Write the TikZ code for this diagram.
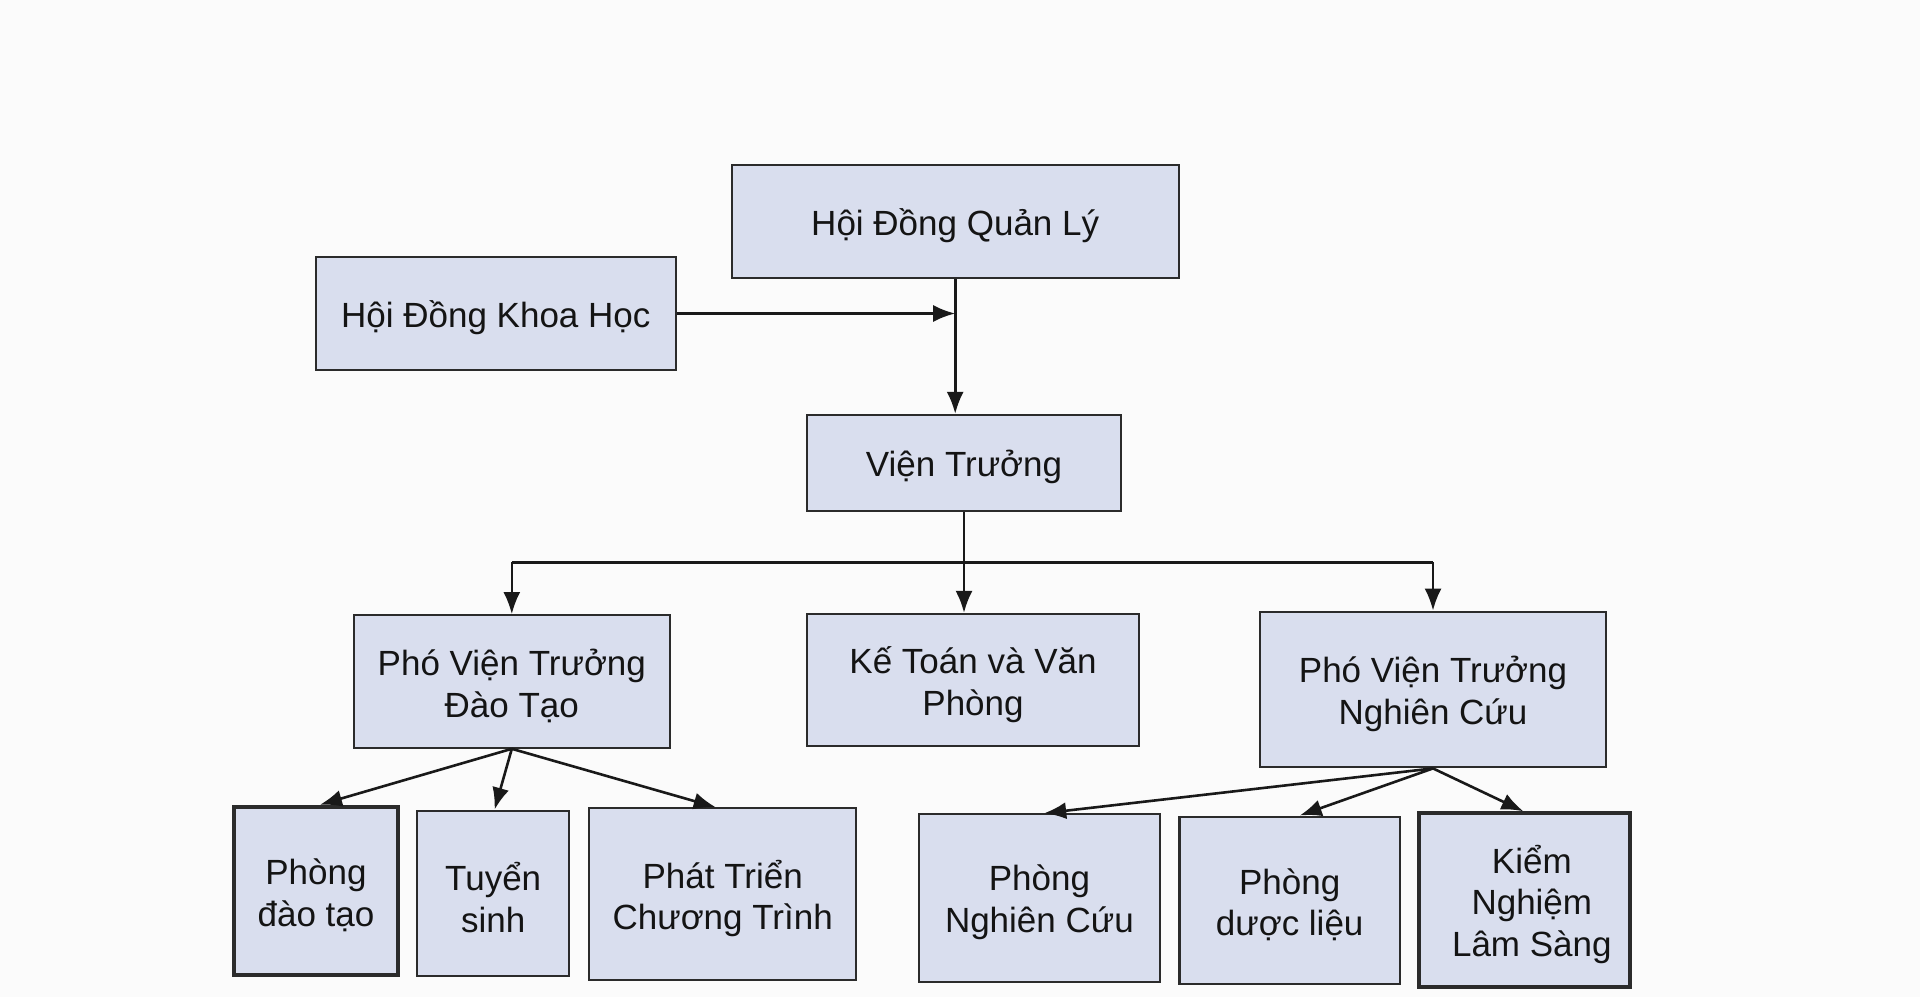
\documentclass[tikz,border=0pt]{standalone}
\usepackage{fontspec}
\setmainfont{Liberation Sans}
\usetikzlibrary{arrows.meta}
\definecolor{boxfill}{HTML}{D9DEEE}
\definecolor{boxline}{HTML}{2B2B2B}
\definecolor{bg}{HTML}{FBFBFB}
\tikzset{
  orgbox/.style={draw=boxline, fill=boxfill, line width=1.1pt, inner sep=0pt},
  thickbox/.style={orgbox, line width=2pt},
  boxtext/.style={align=center, inner sep=0pt, yshift=-2.2pt,
    font=\fontsize{17.5}{20.8}\selectfont, text=black!92},
  conn/.style={draw=black!90, line width=1.3pt, -{Latex[length=11pt,width=8.5pt]}},
  busline/.style={draw=black!90, line width=1.3pt},
}
\begin{document}
\begin{tikzpicture}[x=0.5pt,y=-0.5pt]
\fill[bg] (0,0) rectangle (1920,997);
\useasboundingbox (0,0) rectangle (1920,997);

\node[orgbox, minimum width=223.5pt, minimum height=56.5pt,
  label={[boxtext]center:Hội Đồng Quản Lý}] (hdql) at (955.2,221.5) {};
\node[orgbox, minimum width=180.2pt, minimum height=56.5pt,
  label={[boxtext]center:Hội Đồng Khoa Học}] (hdkh) at (495.8,313.5) {};
\node[orgbox, minimum width=157pt, minimum height=48pt,
  label={[boxtext]center:Viện Trưởng}] (vt) at (964,463) {};

\node[orgbox, minimum width=157.8pt, minimum height=66.2pt,
  label={[boxtext]center:Phó Viện Trưởng\\Đào Tạo}] (pvtdt) at (511.8,681.5) {};
\node[orgbox, minimum width=166pt, minimum height=66pt,
  label={[boxtext]center:Kế Toán và Văn\\Phòng}] (kt) at (973,680) {};
\node[orgbox, minimum width=173pt, minimum height=77.8pt,
  label={[boxtext]center:Phó Viện Trưởng\\Nghiên Cứu}] (pvtnc) at (1433,689.5) {};

\node[thickbox, minimum width=81.7pt, minimum height=84.2pt,
  label={[boxtext]center:Phòng\\đào tạo}] (pdt) at (316,890.9) {};
\node[orgbox, minimum width=75.9pt, minimum height=82.7pt,
  label={[boxtext]center:Tuyển\\sinh}] (ts) at (493.2,893.4) {};
\node[orgbox, minimum width=133.5pt, minimum height=85.9pt,
  label={[boxtext]center:Phát Triển\\Chương Trình}] (ptct) at (722.7,894.2) {};

\node[orgbox, minimum width=120.6pt, minimum height=83.7pt,
  label={[boxtext]center:Phòng\\Nghiên Cứu}] (pnc) at (1039.4,898) {};
\node[orgbox, minimum width=110.2pt, minimum height=83.7pt,
  label={[boxtext]center:Phòng\\dược liệu}] (pdl) at (1289.7,900.3) {};
\node[thickbox, minimum width=105.5pt, minimum height=86.7pt,
  label={[boxtext, xshift=3.5pt]center:Kiểm\\Nghiệm\\Lâm Sàng}] (kn) at (1524.8,900) {};

% top connectors
\coordinate (join) at (hdql.south |- hdkh.east);
\draw[conn] (hdkh.east) -- (join);
\draw[conn] (hdql.south) -- (hdql.south |- vt.north);

% bus from Vien Truong
\coordinate (bus) at (vt.south |- 0,562.3);
\draw[busline] (vt.south) -- (bus);
\draw[busline] (pvtdt.north |- bus) -- (pvtnc.north |- bus);
\draw[conn] (pvtdt.north |- bus) -- (pvtdt.north);
\draw[conn] (bus) -- (bus |- kt.north);
\draw[conn] (pvtnc.north |- bus) -- (pvtnc.north);

% fan from Pho Vien Truong Dao Tao
\draw[conn] (pvtdt.south) -- ([xshift=2pt]pdt.north);
\draw[conn] (pvtdt.south) -- ([xshift=0.7pt]ts.north);
\draw[conn] (pvtdt.south) -- ([xshift=-3.5pt]ptct.north);

% fan from Pho Vien Truong Nghien Cuu
\draw[conn] (pvtnc.south) -- ([xshift=2.4pt]pnc.north);
\draw[conn] (pvtnc.south) -- ([xshift=5pt]pdl.north);
\draw[conn] (pvtnc.south) -- ([xshift=-0.7pt]kn.north);
\end{tikzpicture}
\end{document}
